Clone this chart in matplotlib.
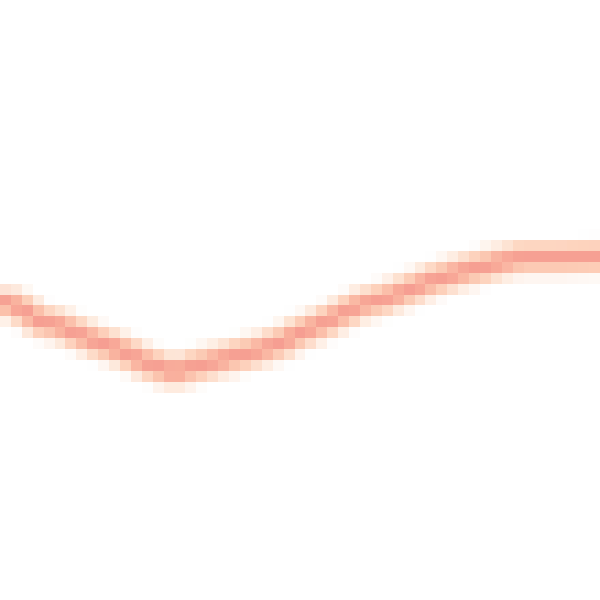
import numpy as np
import matplotlib
matplotlib.use("Agg")
import matplotlib.pyplot as plt

# line (x across, height from bottom, both 0..600)
xs = [0, 20, 40, 60, 80, 100, 120, 140, 160, 175, 200, 220, 240, 260, 280,
      300, 320, 340, 360, 380, 400, 420, 440, 460, 480, 500, 520, 540, 560, 600]
ys = [300, 292, 278, 274, 265, 257, 250, 240, 232, 228, 235, 240, 245, 250, 257,
      267, 275, 285, 295, 300, 307, 315, 322, 328, 333, 338, 342, 342, 342, 343]

# draw small, then blow it up so it gets the blocky look
cells = 55
small = plt.figure(figsize=(1, 1), dpi=cells)
ax = small.add_axes([0, 0, 1, 1])
ax.plot(xs, ys, color="#fedfcb", lw=4.2, solid_capstyle="butt")
ax.plot(xs, ys, color="#fcbba3", lw=2.4, solid_capstyle="butt")
ax.plot(xs, ys, color="#f4948c", lw=0.9, solid_capstyle="butt")
ax.set_xlim(0, 600)
ax.set_ylim(0, 600)
ax.axis("off")
small.canvas.draw()
img = np.asarray(small.canvas.buffer_rgba()).copy()
plt.close(small)

fig = plt.figure(figsize=(6, 6), dpi=100)
ax2 = fig.add_axes([0, 0, 1, 1])
ax2.imshow(img, interpolation="nearest", aspect="auto")
ax2.axis("off")
fig.savefig("out.png", dpi=100)
